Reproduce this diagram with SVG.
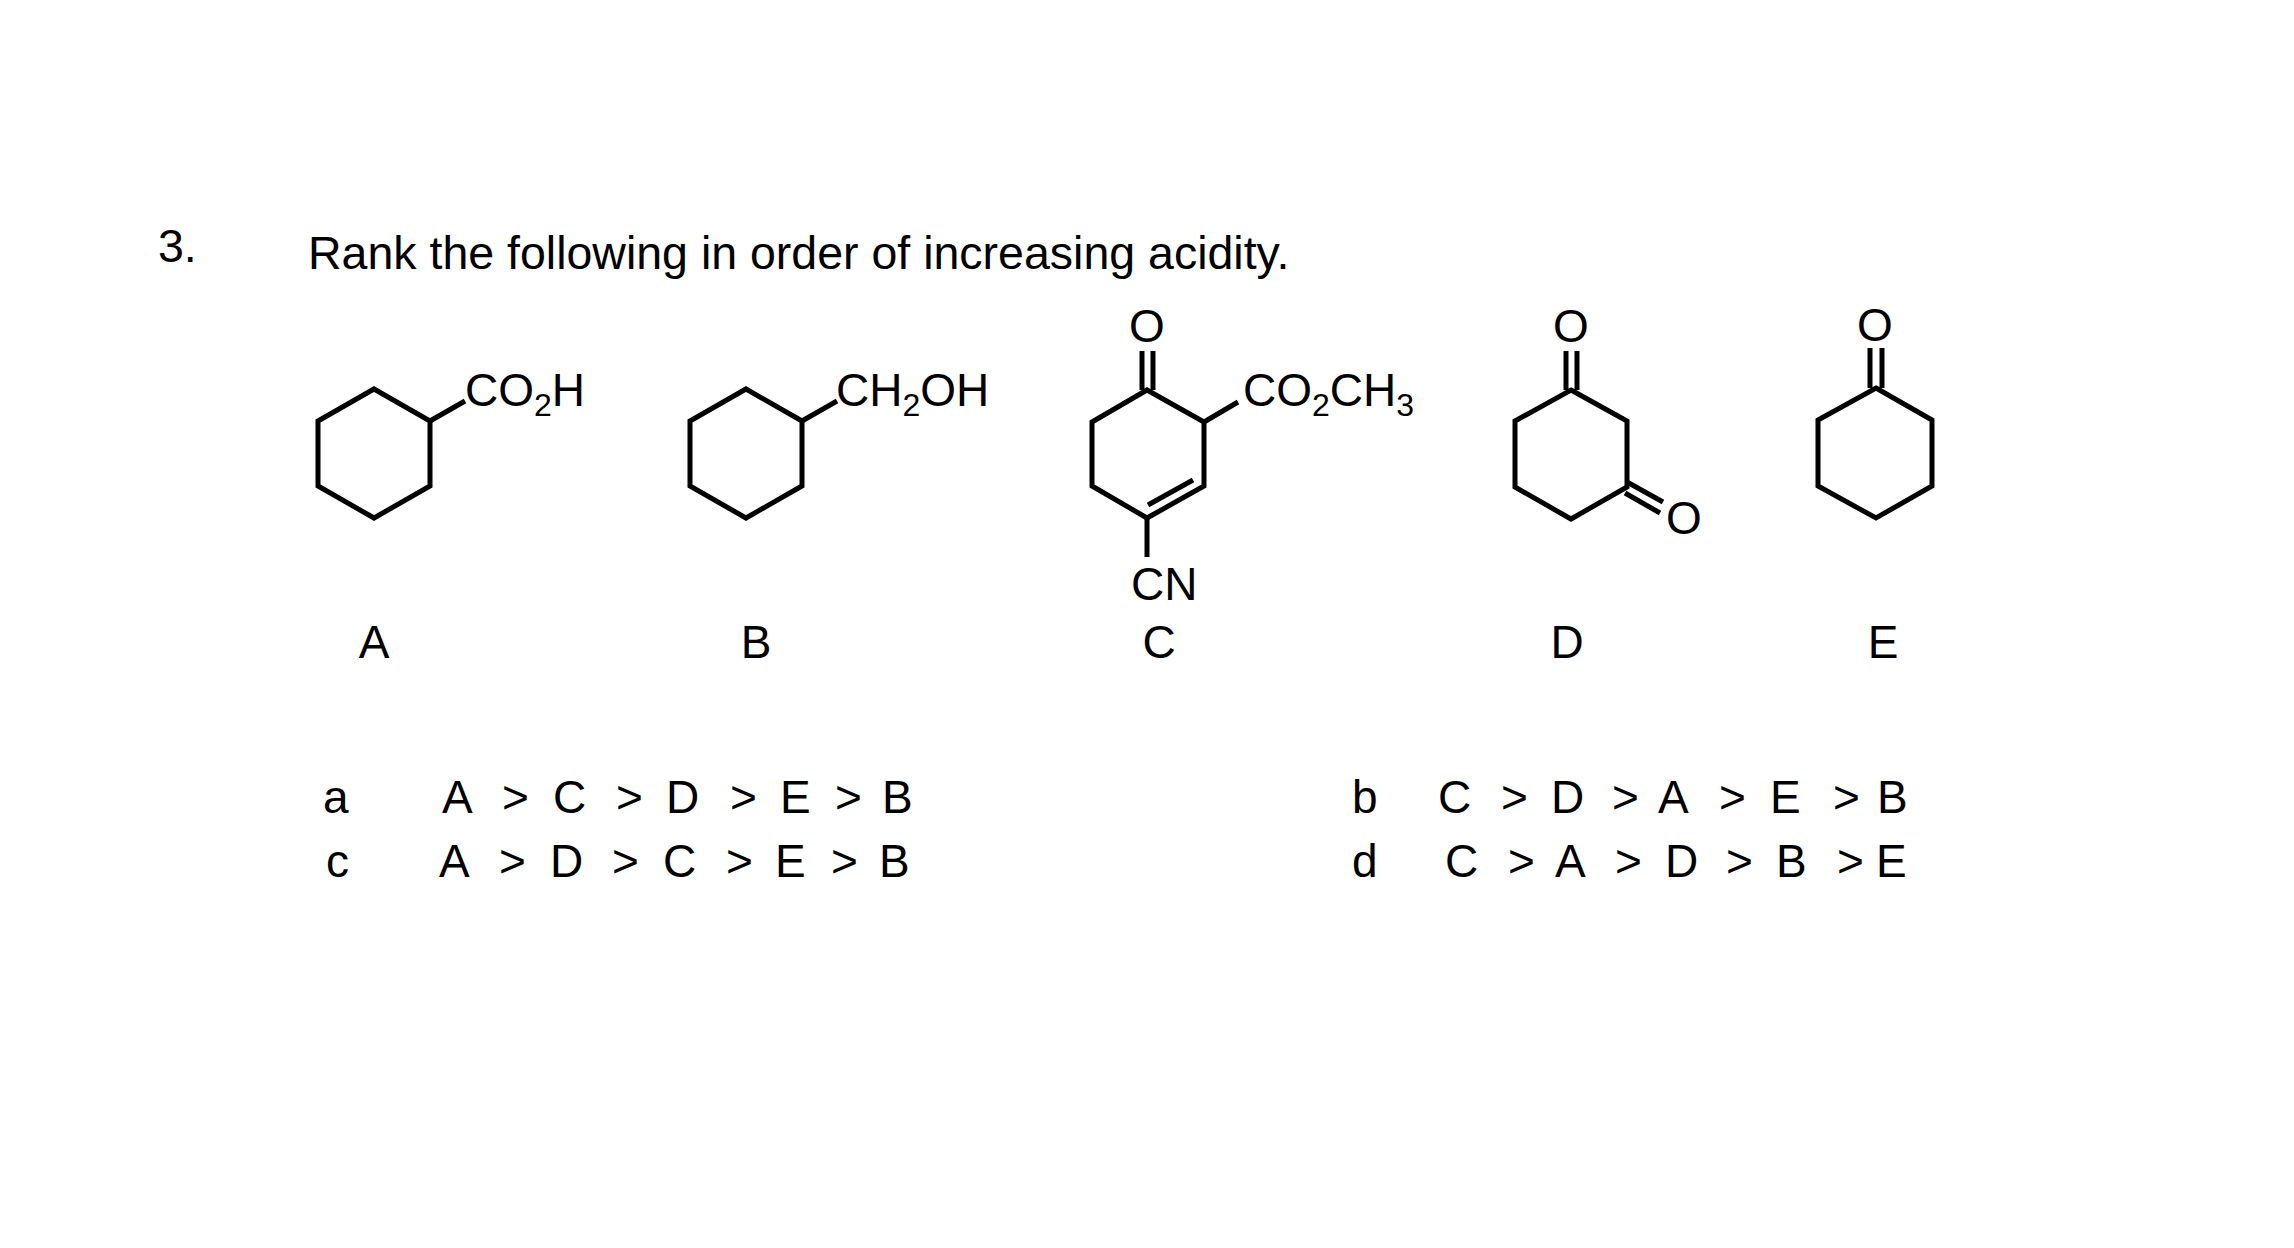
<svg xmlns="http://www.w3.org/2000/svg" width="2294" height="1248" viewBox="0 0 2294 1248">
<style>
text{font-family:"Liberation Sans",Arial,sans-serif;fill:#000}
.t{font-size:46px}
.h{font-size:46.5px}
.m{font-size:46px}
.s{font-size:32px}
.b{fill:none;stroke:#000;stroke-width:5;stroke-linejoin:miter;stroke-linecap:butt}
</style>
<rect width="2294" height="1248" fill="#fff"/>
<text class="h" x="158" y="262">3.</text>
<text class="h" x="308" y="269">Rank the following in order of increasing acidity.</text>

<g id="A">
<polygon class="b" points="374,389 430,421 430,486 374,518 318,486 318,421"/>
<line class="b" x1="430" y1="421" x2="465" y2="401"/>
<text class="m" x="465" y="406">CO<tspan class="s" dy="10">2</tspan><tspan dy="-10">H</tspan></text>
<text class="t" x="374" y="658" text-anchor="middle">A</text>
</g>

<g id="B">
<polygon class="b" points="746,389 802,421 802,486 746,518 690,486 690,421"/>
<line class="b" x1="802" y1="421" x2="837" y2="401"/>
<text class="m" x="836" y="406">CH<tspan class="s" dy="10">2</tspan><tspan dy="-10">OH</tspan></text>
<text class="t" x="756" y="658" text-anchor="middle">B</text>
</g>

<g id="C">
<polygon class="b" points="1147,390 1204,422 1204,486 1147,518 1092,486 1092,422"/>
<line class="b" x1="1193" y1="480" x2="1148" y2="505"/>
<line class="b" x1="1142" y1="390" x2="1142" y2="351"/>
<line class="b" x1="1153" y1="390" x2="1153" y2="351"/>
<text class="m" x="1147" y="342" text-anchor="middle">O</text>
<line class="b" x1="1204" y1="422" x2="1238" y2="402"/>
<text class="m" x="1243" y="406">CO<tspan class="s" dy="10">2</tspan><tspan dy="-10">CH</tspan><tspan class="s" dy="10">3</tspan></text>
<line class="b" x1="1147" y1="518" x2="1147" y2="557"/>
<text class="m" x="1131" y="600">CN</text>
<text class="t" x="1159" y="658" text-anchor="middle">C</text>
</g>

<g id="D">
<polygon class="b" points="1571,390 1627,421 1627,487 1571,519 1515,487 1515,421"/>
<line class="b" x1="1566" y1="390" x2="1566" y2="351"/>
<line class="b" x1="1577" y1="390" x2="1577" y2="351"/>
<text class="m" x="1571" y="342" text-anchor="middle">O</text>
<line class="b" x1="1627" y1="482" x2="1663" y2="502"/>
<line class="b" x1="1625" y1="493" x2="1660" y2="513"/>
<text class="m" x="1684" y="534" text-anchor="middle">O</text>
<text class="t" x="1567" y="658" text-anchor="middle">D</text>
</g>

<g id="E">
<polygon class="b" points="1876,388 1932,420 1932,486 1876,518 1818,486 1818,420"/>
<line class="b" x1="1870" y1="388" x2="1870" y2="348"/>
<line class="b" x1="1882" y1="388" x2="1882" y2="348"/>
<text class="m" x="1875" y="341" text-anchor="middle">O</text>
<text class="t" x="1883" y="658" text-anchor="middle">E</text>
</g>

<g id="connectors"></g>

<g id="answers">
<text class="t" x="323" y="813">a</text>
<text class="t" x="442 470 502 530 553 580 616 640 666 700 730 760 780 810 835 860 882" y="813">A &gt; C &gt; D &gt; E &gt; B</text>
<text class="t" x="326" y="877">c</text>
<text class="t" x="439 470 499 530 550 580 612 640 663 700 726 755 775 805 831 860 879" y="877">A &gt; D &gt; C &gt; E &gt; B</text>
<text class="t" x="1352" y="813">b</text>
<text class="t" x="1438 1470 1501 1530 1551 1590 1612 1640 1658 1700 1719 1750 1770 1800 1833 1860 1877" y="813">C &gt; D &gt; A &gt; E &gt; B</text>
<text class="t" x="1352" y="877">d</text>
<text class="t" x="1445 1480 1508 1535 1555 1590 1615 1645 1665 1700 1726 1755 1776 1810 1837 1876" y="877">C &gt; A &gt; D &gt; B &gt;E</text>
</g>
</svg>
